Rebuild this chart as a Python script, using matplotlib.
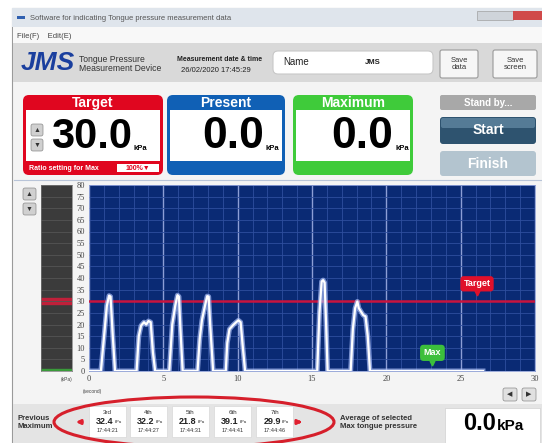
import matplotlib.pyplot as plt
from matplotlib.patches import FancyBboxPatch, Rectangle, Ellipse

plt.rcParams['font.family'] = ['Liberation Sans', 'DejaVu Sans']

W, H = 542, 443

# ---- data ----
time_s = [0, 0.8, 1.0, 1.2, 1.35, 1.45, 1.6, 1.75,
          3.2, 3.35, 3.5, 3.7, 3.85, 4.0, 4.15, 4.3, 4.45,
          5.4, 5.6, 5.8, 5.95, 6.05, 6.15, 6.3,
          7.3, 7.45, 7.6, 7.8, 7.95, 8.05, 8.15, 8.35,
          9.2, 9.3, 9.45, 9.7, 9.9, 10.05, 10.2, 10.35, 10.5,
          15.35, 15.5, 15.65, 15.75, 15.85, 15.95, 16.05,
          17.6, 17.75, 17.9, 18.05, 18.15, 18.3, 18.45, 18.6, 18.75, 18.9,
          26.5]
pressure_kpa = [0, 0, 14, 28, 32.4, 32, 15, 0,
                0, 15, 19.5, 21, 20, 21.5, 21, 8, 0,
                0, 20, 28, 32.6, 32, 18, 0,
                0, 14, 22, 28, 32.2, 32, 20, 0,
                0, 12, 18, 19.8, 21, 21.8, 21, 10, 0,
                0, 25, 38.5, 39.1, 38, 20, 0,
                0, 18, 27, 29.9, 27, 25.5, 24, 23.5, 15, 0,
                0]

target_kpa = 30.0
present_kpa = 0.0
maximum_kpa = 0.0
average_kpa = 0.0
max_marker_s = 23.1

prev_rank = ['3rd', '4th', '5th', '6th', '7th']
prev_max = [32.4, 32.2, 21.8, 39.1, 29.9]
prev_time = ['17:44:21', '17:44:27', '17:44:31', '17:44:41', '17:44:46']

y_ticks = list(range(0, 81, 5))
x_ticks = [0, 5, 10, 15, 20, 25, 30]

fig = plt.figure(figsize=(W / 100, H / 100), dpi=100)
fig.patch.set_facecolor('white')

# full-figure axes in pixel units for the window chrome
ui = fig.add_axes([0, 0, 1, 1])
ui.set_xlim(0, W)
ui.set_ylim(H, 0)
ui.axis('off')


def rect(x0, y0, x1, y1, fc, ec='none', lw=0.8, r=0, z=1):
    if r > 0:
        p = FancyBboxPatch((x0, y0), x1 - x0, y1 - y0, boxstyle='round,pad=0,rounding_size=%g' % r,
                           fc=fc, ec=ec, lw=lw, zorder=z)
    else:
        p = Rectangle((x0, y0), x1 - x0, y1 - y0, fc=fc, ec=ec, lw=lw, zorder=z)
    ui.add_patch(p)


def txt(x, y, s, size, color='black', weight='normal', ha='left', va='center', **kw):
    ui.text(x, y, s, fontsize=size, color=color, fontweight=weight, ha=ha, va=va, zorder=5, **kw)


# window frame
rect(12, 8, 545, 446, '#f4f4f4', ec='#9a9a9a', lw=0.8)
rect(12, 8, 545, 27, '#dfe5ec')
txt(30, 18, 'Software for indicating Tongue pressure measurement data', 5.5, '#555555')
rect(17, 16, 25, 19, '#3060b0')
rect(477, 11, 513, 20, '#cfd4da', ec='#a0a0a0', lw=0.5)
rect(513, 11, 545, 20, '#d04a4a')
rect(13, 27, 545, 43, '#f8f8f8')
txt(17, 36, 'File(F)    Edit(E)', 5.5, '#444444')

# header
rect(13, 43, 545, 82, '#d9d9d9')
txt(21, 63, 'JMS', 19, '#1a3f9e', 'bold', style='italic')
txt(79, 59, 'Tongue Pressure', 6.2, '#333333')
txt(79, 68, 'Measurement Device', 6.2, '#333333')
txt(177, 59, 'Measurement date & time', 5, '#222222', 'bold')
txt(181, 70, '26/02/2020 17:45:29', 5.5, '#222222')
rect(273, 51, 433, 74, 'white', ec='#c8c8c8', r=5)
txt(283, 62, 'Name', 7, '#222222')
txt(365, 62, 'JMS', 5.5, '#222222', 'bold')
rect(440, 50, 478, 78, '#f6f6f6', ec='#9a9a9a', r=2)
txt(459, 64, 'Save\ndata', 5.5, '#333333', ha='center', linespacing=1.0)
rect(493, 50, 537, 78, '#f6f6f6', ec='#9a9a9a', r=2)
txt(515, 64, 'Save\nscreen', 5.5, '#333333', ha='center', linespacing=1.0)

# value panels: left, right, colour, title, value, right edge of the number, font size
panels = [(23, 163, '#e0061f', 'Target', target_kpa, 132, 30),
          (167, 285, '#1060b5', 'Present', present_kpa, 264, 32),
          (293, 413, '#3fcb3a', 'Maximum', maximum_kpa, 393, 32)]
for x0, x1, col, name, val, nx, fs in panels:
    rect(x0, 95, x1, 175, col, r=6)
    rect(x0 + 3, 110, x1 - 3, 161, 'white', z=2)
    txt((x0 + x1) / 2, 102.5, name, 10, 'white', 'bold', ha='center')
    txt(nx, 137, '%.1f' % val, fs, 'black', 'bold', ha='right')
    txt(nx + 2, 148, 'kPa', 5.5, 'black', 'bold')

# target up/down and ratio
rect(31, 124, 43, 136, '#d0d0d0', ec='#8a8a8a', lw=0.5, r=2, z=3)
rect(31, 139, 43, 151, '#d0d0d0', ec='#8a8a8a', lw=0.5, r=2, z=3)
txt(37, 130, '▲', 5, '#333333', ha='center')
txt(37, 145, '▼', 5, '#333333', ha='center')
txt(29, 168, 'Ratio setting for Max', 5, 'white', 'bold')
rect(117, 164, 159, 172, 'white', z=3)
txt(138, 168, '100%▼', 5, '#e0061f', 'bold', ha='center')

# right buttons
rect(440, 95, 536, 110, '#a8a8a8', r=2)
txt(488, 102.5, 'Stand by...', 7, 'white', 'bold', ha='center')
rect(440, 117, 536, 144, '#2e536f', r=3)
rect(441, 118, 535, 128, '#557b96', r=2)
txt(488, 130.5, 'Start', 10, 'white', 'bold', ha='center')
rect(440, 151, 536, 176, '#b3c4cf', r=3)
txt(488, 163.5, 'Finish', 10, 'white', 'bold', ha='center')

# chart side controls
ui.plot([14, 545], [180, 180], color='#b8c4d8', lw=0.8)
rect(23, 188, 36, 200, '#d0d0d0', ec='#8a8a8a', lw=0.5, r=2)
rect(23, 203, 36, 215, '#d0d0d0', ec='#8a8a8a', lw=0.5, r=2)
txt(29.5, 194, '▲', 5, '#333333', ha='center')
txt(29.5, 209, '▼', 5, '#333333', ha='center')
txt(67, 379, '(kPa)', 3.5, '#444444', ha='center')
txt(92, 391, '(second)', 3.5, '#444444', ha='center')
rect(503, 388, 517, 401, '#e0e0e0', ec='#8a8a8a', lw=0.5, r=2)
rect(522, 388, 536, 401, '#e0e0e0', ec='#8a8a8a', lw=0.5, r=2)
txt(510, 394.5, '◀', 5, '#333333', ha='center')
txt(529, 394.5, '▶', 5, '#333333', ha='center')

# bottom strip
rect(13, 404, 545, 446, '#e4e4e4')
txt(18, 418, 'Previous', 5.5, '#333333', 'bold')
txt(18, 427, 'Maximum', 5.5, '#333333', 'bold')
card_x = [89, 130, 172, 214, 256]
for cx, rk, mv, tm in zip(card_x, prev_rank, prev_max, prev_time):
    rect(cx, 406, cx + 37, 437, 'white', ec='#d8d8d8', lw=0.5)
    txt(cx + 18.5, 412, rk, 4.5, '#333333', ha='center')
    txt(cx + 16, 421, '%.1f' % mv, 6.5, '#222222', 'bold', ha='center')
    txt(cx + 29, 422, 'kPa', 3, '#222222', ha='center')
    txt(cx + 18.5, 430, tm, 4, '#333333', ha='center')
ui.annotate('', xy=(73, 422), xytext=(85, 422),
            arrowprops=dict(arrowstyle='-|>', color='#e02030', lw=2, mutation_scale=6), zorder=6)
ui.annotate('', xy=(305, 422), xytext=(294, 422),
            arrowprops=dict(arrowstyle='-|>', color='#e02030', lw=2, mutation_scale=6), zorder=6)
ui.add_patch(Ellipse((194, 422), 280, 50, fc='none', ec='#d61f2b', lw=2.2, zorder=7))
txt(340, 418, 'Average of selected', 5.5, '#333333', 'bold')
txt(340, 427, 'Max tongue pressure', 5.5, '#333333', 'bold')
rect(445, 408, 540, 446, 'white', ec='#d0d0d0', lw=0.5)
txt(496, 424, '%.1f' % average_kpa, 17, 'black', 'bold', ha='right')
txt(497, 426, 'kPa', 11, 'black', 'bold')

# gray level bar next to the chart
axb = fig.add_axes([41 / W, 1 - 371 / H, 31 / W, 186 / H])
axb.set_facecolor('#3b3b3b')
axb.set_xlim(0, 1)
axb.set_ylim(0, 80)
for yv in y_ticks:
    axb.axhline(yv, color='#555555', lw=0.6)
axb.axhspan(target_kpa - 1.2, target_kpa + 1.2, color='#c0203a')
axb.axhspan(0, 0.8, color='#3a9a3a')
axb.set_xticks([])
axb.set_yticks([])
for s in axb.spines.values():
    s.set_color('#777777')
    s.set_linewidth(0.5)

# main chart
ax = fig.add_axes([89 / W, 1 - 371 / H, (535 - 89) / W, (371 - 185) / H])
ax.set_facecolor('#0a2a74')
ax.set_xlim(0, 30)
ax.set_ylim(0, 80)
ax.set_xticks(x_ticks)
ax.set_xticks(range(31), minor=True)
ax.set_yticks(y_ticks)
ax.grid(which='minor', axis='x', color='#2f4f9f', lw=0.6)
ax.grid(which='major', axis='x', color='#8c9ed6', lw=1.0)
ax.grid(which='major', axis='y', color='#2f4f9f', lw=0.6)
ax.set_axisbelow(True)
ax.tick_params(which='both', length=0, labelsize=6, labelcolor='#444444', pad=3)
for lab in ax.get_xticklabels() + ax.get_yticklabels():
    lab.set_family('Liberation Serif')
for s in ax.spines.values():
    s.set_color('#8c9ed6')
    s.set_linewidth(0.6)

ax.axhline(target_kpa, color='#c8143e', lw=1.8, zorder=3)
ax.plot(time_s, pressure_kpa, color='#a9bdf5', lw=3.6, alpha=0.7, zorder=4, solid_joinstyle='round')
ax.plot(time_s, pressure_kpa, color='white', lw=1.6, zorder=5, solid_joinstyle='round')

ax.text(26.1, 37.5, 'Target', color='white', fontsize=6.5, fontweight='bold', ha='center', va='center',
        bbox=dict(boxstyle='round,pad=0.35', fc='#e0102a', ec='none'), zorder=6)
ax.plot([26.1], [33.4], marker='v', color='#e0102a', ms=3.5, zorder=6)
ax.text(max_marker_s, 7.8, 'Max', color='white', fontsize=6.5, fontweight='bold', ha='center', va='center',
        bbox=dict(boxstyle='round,pad=0.4', fc='#3cbf3c', ec='none'), zorder=6)
ax.plot([max_marker_s], [3.4], marker='v', color='#3cbf3c', ms=3.5, zorder=6)

fig.savefig('out.png', dpi=100)
